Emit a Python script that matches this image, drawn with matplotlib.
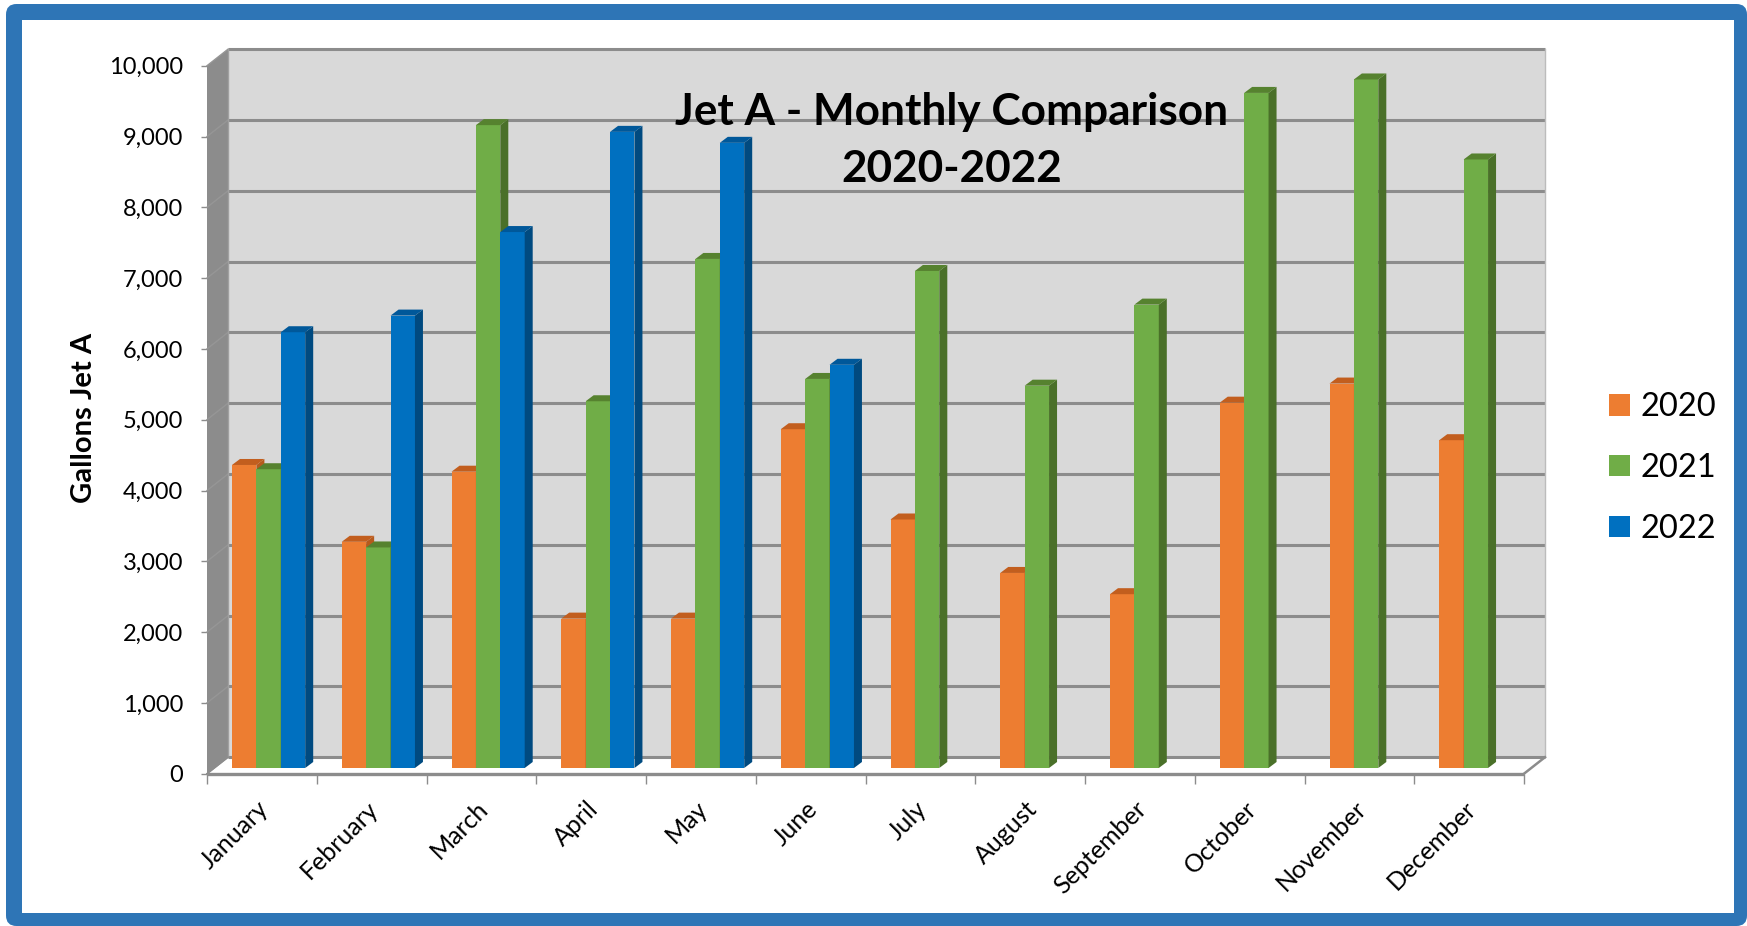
import numpy as np
import matplotlib
matplotlib.use('Agg')
import matplotlib.pyplot as plt
from matplotlib.patches import FancyBboxPatch, Polygon, Rectangle
from matplotlib.ticker import FuncFormatter
from matplotlib.transforms import ScaledTranslation

months = ['January', 'February', 'March', 'April', 'May', 'June', 'July',
          'August', 'September', 'October', 'November', 'December']
jet_2020 = [4280, 3195, 4185, 2110, 2110, 4785, 3510, 2755, 2455, 5160, 5430, 4630]
jet_2021 = [4220, 3115, 9080, 5180, 7190, 5495, 7020, 5400, 6545, 9535, 9725, 8595]
jet_2022 = [6155, 6390, 7570, 8985, 8830, 5695]
years = ['2020', '2021', '2022']

W, H = 1747, 926
plt.rcParams['font.family'] = ['Lato', 'DejaVu Sans']

fig = plt.figure(figsize=(W / 100, H / 100), dpi=100, facecolor='white')

# outer blue frame
frame = FancyBboxPatch((6 / W, 0.0), (W - 6) / W, 1 - 4 / H,
                       boxstyle='round,pad=0,rounding_size=0.006', mutation_aspect=W / H,
                       transform=fig.transFigure, facecolor='#2e75b6', edgecolor='none', zorder=-3)
fig.add_artist(frame)
fig.add_artist(Rectangle((22 / W, 1 - 913 / H), (1734 - 22) / W, (913 - 20) / H,
                         transform=fig.transFigure, facecolor='white', edgecolor='none', zorder=-2))

# axes covers the front plane of the 3d box
x_left, x_right, y_top, y_bottom = 207, 1524, 65.7, 773.7
ax = fig.add_axes([x_left / W, 1 - y_bottom / H, (x_right - x_left) / W, (y_bottom - y_top) / H])
ax.set_xlim(0, 12)
ax.set_ylim(0, 10000)
ax.patch.set_visible(False)
for s in ax.spines.values():
    s.set_visible(False)

px_x = 12 / (x_right - x_left)
px_y = 10000 / (y_bottom - y_top)
depth_x, depth_y = 21 * px_x, 16.5 * px_y
grid_col = '#8c8c8c'

# back wall, side wall
ax.add_patch(Rectangle((depth_x, depth_y), 12, 10000, facecolor='#d9d9d9', edgecolor='none',
                       clip_on=False, zorder=1))
ax.add_patch(Polygon([(0, 0), (depth_x, depth_y), (depth_x, 10000 + depth_y), (0, 10000)],
                     facecolor=grid_col, edgecolor='none', clip_on=False, zorder=1))

for v in range(0, 11000, 1000):
    ax.plot([depth_x, 12 + depth_x], [v + depth_y] * 2, color=grid_col, lw=2.2,
            clip_on=False, zorder=2, solid_capstyle='butt')
    ax.plot([0, depth_x], [v, v + depth_y], color='#969696', lw=1, clip_on=False, zorder=2)
ax.plot([depth_x, depth_x], [depth_y, 10000 + depth_y], color='#a0a0a0', lw=1, clip_on=False, zorder=2)
ax.plot([12 + depth_x, 12 + depth_x], [depth_y, 10000 + depth_y], color='#bcbcbc', lw=1,
        clip_on=False, zorder=2)
ax.plot([0, 12], [0, 0], color=grid_col, lw=2.4, clip_on=False, zorder=2, solid_capstyle='butt')
ax.plot([12, 12 + depth_x], [0, depth_y], color=grid_col, lw=1.8, clip_on=False, zorder=2)
ax.plot([0, depth_x], [0, depth_y], color=grid_col, lw=1.2, clip_on=False, zorder=2)

# bars
bar_w = 24.4 * px_x
bar_start = 25 * px_x
lift = 5.7 * px_y
side_x, side_y = 8 * px_x, 6 * px_y
series = [jet_2020, jet_2021, jet_2022]
front_cols = ['#ed7d31', '#70ad47', '#0070c0']
side_cols = ['#b65a1d', '#4a7029', '#004a80']
top_cols = ['#c25e1e', '#56822f', '#00589a']

for k, vals in enumerate(series):
    xs = np.arange(len(vals)) + bar_start + k * bar_w
    ax.bar(xs, vals, width=bar_w, bottom=lift, align='edge', color=front_cols[k],
           edgecolor='none', zorder=3 + k, clip_on=False, label=years[k])
    for x, v in zip(xs, vals):
        top = v + lift
        ax.add_patch(Polygon([(x + bar_w, lift), (x + bar_w + side_x, lift + side_y),
                              (x + bar_w + side_x, top + side_y), (x + bar_w, top)],
                             facecolor=side_cols[k], edgecolor='none', zorder=3 + k, clip_on=False))
        ax.add_patch(Polygon([(x, top), (x + side_x, top + side_y),
                              (x + bar_w + side_x, top + side_y), (x + bar_w, top)],
                             facecolor=top_cols[k], edgecolor='none', zorder=3 + k, clip_on=False))

# ticks and labels
ax.set_yticks(range(0, 11000, 1000))
ax.yaxis.set_major_formatter(FuncFormatter(lambda v, _: f'{int(v):,}'))
ax.tick_params(axis='y', length=4.5, width=1, color=grid_col, labelsize=17, pad=12.5, labelcolor='black')
ax.set_xticks(range(13))
ax.set_xticklabels([])
ax.tick_params(axis='x', which='major', length=7, width=1, color=grid_col)
ax.set_xticks(np.arange(12) + 0.5, minor=True)
ax.set_xticklabels(months, minor=True, rotation=45, ha='right', va='top',
                   rotation_mode='anchor', fontsize=18, color='black')
ax.tick_params(axis='x', which='minor', length=0, pad=21)

# nudge month labels up and left
nudge = ScaledTranslation(-5 / 100, 6 / 100, fig.dpi_scale_trans)
for lab in ax.get_xticklabels(minor=True):
    lab.set_transform(lab.get_transform() + nudge)

fig.text(84 / W, 1 - 418 / H, 'Gallons Jet A', rotation=90, ha='center', va='center',
         fontsize=21, fontweight='bold', color='black')

fig.text(952 / W, 1 - 111.5 / H, 'Jet A - Monthly Comparison', ha='center', va='center',
         fontsize=31.8, fontweight='bold', color='black', zorder=10)
fig.text(952 / W, 1 - 169.5 / H, '2020-2022', ha='center', va='center',
         fontsize=31.8, fontweight='bold', color='black', zorder=10)

leg = ax.legend(loc='center left', bbox_to_anchor=(1609 / W, 1 - 468 / H),
                bbox_transform=fig.transFigure, frameon=False, fontsize=23.5,
                handlelength=0.63, handleheight=0.63, handletextpad=0.35,
                labelspacing=0.94, borderpad=0, borderaxespad=0)

fig.savefig('out.png', dpi=100)
